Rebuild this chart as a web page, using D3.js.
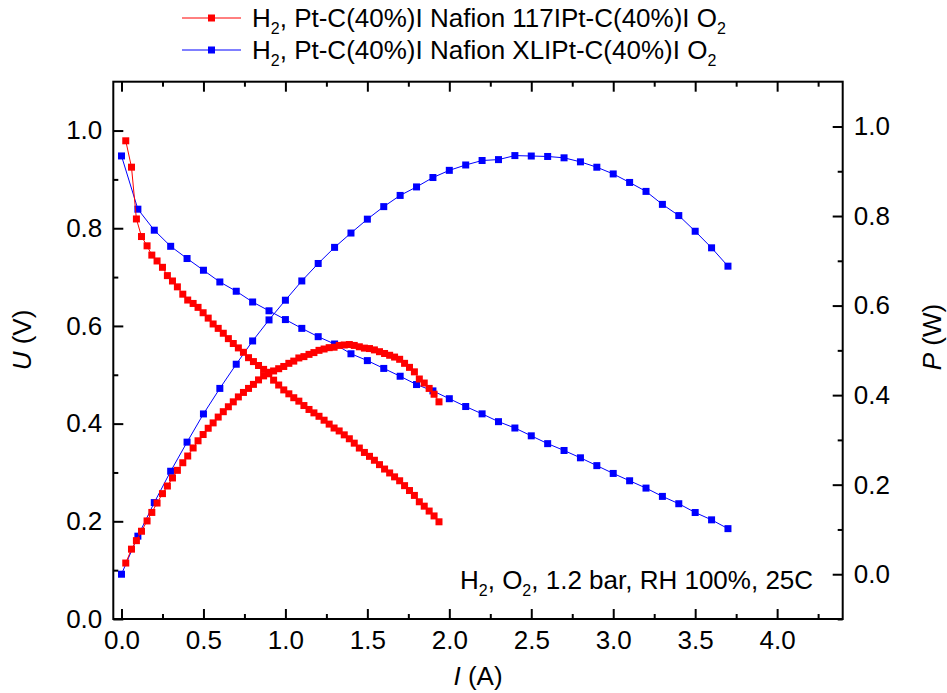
<!DOCTYPE html>
<html><head><meta charset="utf-8">
<script src="https://cdn.jsdelivr.net/npm/d3@7"></script>
<style>
body{margin:0;background:#fff}
svg{display:block}
text{font-family:"Liberation Sans",Arial,sans-serif;fill:#000}
</style>
</head><body>
<svg id="c" width="947" height="693"></svg>
<script>
// ---------- data ----------
const xTickValues = [0.0, 0.5, 1.0, 1.5, 2.0, 2.5, 3.0, 3.5, 4.0];
const uTickValues = [0.0, 0.2, 0.4, 0.6, 0.8, 1.0];
const pTickValues = [0.0, 0.2, 0.4, 0.6, 0.8, 1.0];

const seriesNames = ["Nafion 117", "Nafion XL"];

// Nafion 117 (red)
const redI = [0.026,0.061,0.091,0.122,0.156,0.185,0.217,0.250,0.280,0.311,0.341,0.374,0.404,0.437,
  0.467,0.498,0.529,0.559,0.590,0.621,0.652,0.682,0.713,0.744,0.775,0.805,0.836,0.867,0.898,0.928,
  0.959,0.990,1.021,1.051,1.082,1.113,1.144,1.174,1.205,1.236,1.267,1.297,1.328,1.359,1.390,1.420,
  1.451,1.482,1.513,1.543,1.574,1.605,1.636,1.666,1.697,
  1.727,1.757,1.787,1.817,1.847,1.877,1.907,1.937];
const redU = [0.979,0.925,0.819,0.783,0.764,0.745,0.733,0.720,0.703,0.692,0.680,0.665,0.653,0.646,
  0.638,0.627,0.616,0.604,0.595,0.585,0.574,0.564,0.555,0.546,0.535,0.527,0.519,0.511,0.502,0.489,
  0.479,0.469,0.461,0.453,0.446,0.437,0.429,0.422,0.415,0.407,0.399,0.391,0.385,0.377,0.369,0.360,
  0.350,0.341,0.333,0.325,0.316,0.307,0.299,0.291,0.283,
  0.273,0.263,0.253,0.240,0.231,0.221,0.211,0.199];
const redP = [0.025,0.056,0.075,0.096,0.119,0.138,0.159,0.180,0.197,0.215,0.232,0.249,0.264,0.282,
  0.298,0.312,0.326,0.338,0.351,0.363,0.374,0.385,0.396,0.406,0.415,0.424,0.434,0.443,0.451,0.454,
  0.459,0.464,0.471,0.476,0.483,0.486,0.491,0.495,0.500,0.503,0.506,0.507,0.511,0.512,0.513,0.511,
  0.508,0.505,0.504,0.501,0.497,0.493,0.489,0.485,0.480,
  0.471,0.462,0.452,0.436,0.427,0.415,0.402,0.385];

// Nafion XL (blue)
const blueI = [0.0,0.1,0.2,0.3,0.4,0.5,0.6,0.7,0.8,0.9,1.0,1.1,1.2,1.3,1.4,1.5,1.6,1.7,1.8,1.9,
  2.0,2.1,2.2,2.3,2.4,2.5,2.6,2.7,2.8,2.9,3.0,3.1,3.2,3.3,3.4,3.5,3.6,3.7];
const blueU = [0.948,0.839,0.796,0.763,0.738,0.714,0.690,0.671,0.649,0.631,0.613,0.595,0.578,0.563,
  0.543,0.529,0.513,0.497,0.480,0.467,0.451,0.435,0.420,0.404,0.391,0.375,0.359,0.345,0.330,0.314,
  0.298,0.283,0.268,0.251,0.236,0.218,0.203,0.185];
const blueP = [0.000,0.085,0.160,0.230,0.295,0.358,0.415,0.469,0.521,0.568,0.612,0.655,0.694,0.730,
  0.762,0.793,0.821,0.846,0.865,0.886,0.902,0.914,0.924,0.926,0.935,0.934,0.933,0.930,0.921,0.909,
  0.894,0.875,0.855,0.826,0.801,0.766,0.729,0.688];

// ---------- layout ----------
const L = 113.3, R = 842.7, T = 81.7, B = 619;
const FS = 26, SUB = 16;
const svg = d3.select("#c");

const x = d3.scaleLinear().domain([-0.05, 4.4]).range([L, R]);
const yU = d3.scaleLinear().domain([0, 1.1]).range([B, T]);
const yP = d3.scaleLinear().domain([-0.1, 1.1]).range([B, T]);

const fmt = d3.format(".1f");
const xMinor = [0.25, 0.75, 1.25, 1.75, 2.25, 2.75, 3.25, 3.75, 4.25];
const uMinor = [0.1, 0.3, 0.5, 0.7, 0.9];
const pMinor = [-0.1, 0.1, 0.3, 0.5, 0.7, 0.9];

function styleAxis(g){
  g.select(".domain").remove();
  g.selectAll(".tick line").attr("stroke", "#000").attr("stroke-width", 2);
  g.selectAll(".tick text").style("font-size", FS + "px")
    .style("font-family", '"Liberation Sans", Arial, sans-serif').attr("fill", "#000");
}

// bottom
svg.append("g").attr("transform", `translate(0,${B})`)
  .call(d3.axisBottom(x).tickValues(xTickValues).tickFormat(fmt).tickSizeInner(-10).tickSizeOuter(0).tickPadding(12))
  .call(styleAxis);
svg.append("g").attr("transform", `translate(0,${B})`)
  .call(d3.axisBottom(x).tickValues(xMinor).tickFormat("").tickSizeInner(-5).tickSizeOuter(0))
  .call(styleAxis);
// top (mirror)
svg.append("g").attr("transform", `translate(0,${T})`)
  .call(d3.axisTop(x).tickValues(xTickValues).tickFormat("").tickSizeInner(-10).tickSizeOuter(0))
  .call(styleAxis);
svg.append("g").attr("transform", `translate(0,${T})`)
  .call(d3.axisTop(x).tickValues(xMinor).tickFormat("").tickSizeInner(-5).tickSizeOuter(0))
  .call(styleAxis);
// left U
svg.append("g").attr("transform", `translate(${L},0)`)
  .call(d3.axisLeft(yU).tickValues(uTickValues).tickFormat(fmt).tickSizeInner(-10).tickSizeOuter(0).tickPadding(11))
  .call(styleAxis);
svg.append("g").attr("transform", `translate(${L},0)`)
  .call(d3.axisLeft(yU).tickValues(uMinor).tickFormat("").tickSizeInner(-5).tickSizeOuter(0))
  .call(styleAxis);
// right P
svg.append("g").attr("transform", `translate(${R},0)`)
  .call(d3.axisRight(yP).tickValues(pTickValues).tickFormat(fmt).tickSizeInner(-10).tickSizeOuter(0).tickPadding(11))
  .call(styleAxis);
svg.append("g").attr("transform", `translate(${R},0)`)
  .call(d3.axisRight(yP).tickValues(pMinor).tickFormat("").tickSizeInner(-5).tickSizeOuter(0))
  .call(styleAxis);

// frame
svg.append("rect").attr("x", L).attr("y", T).attr("width", R - L).attr("height", B - T)
  .attr("fill", "none").attr("stroke", "#000").attr("stroke-width", 2);

// axis titles
const xt = svg.append("text").attr("x", (L + R) / 2).attr("y", 685).attr("text-anchor", "middle").style("font-size", FS + "px");
xt.append("tspan").style("font-style", "italic").text("I");
xt.append("tspan").text(" (A)");

const ut = svg.append("text").attr("transform", "translate(31,340) rotate(-90)").attr("text-anchor", "middle").style("font-size", FS + "px");
ut.append("tspan").style("font-style", "italic").text("U");
ut.append("tspan").text(" (V)");

const pt = svg.append("text").attr("transform", "translate(941,337) rotate(-90)").attr("text-anchor", "middle").style("font-size", FS + "px");
pt.append("tspan").style("font-style", "italic").text("P");
pt.append("tspan").text(" (W)");

// ---------- series ----------
const MS = 7;
function drawSeries(I, V, yScale, color){
  const pts = I.map((v, i) => [v, V[i]]);
  const line = d3.line().x(d => x(d[0])).y(d => yScale(d[1]));
  const g = svg.append("g");
  g.append("path").attr("d", line(pts)).attr("fill", "none").attr("stroke", color).attr("stroke-width", 1);
  g.selectAll("rect").data(pts).join("rect")
    .attr("x", d => x(d[0]) - MS / 2).attr("y", d => yScale(d[1]) - MS / 2)
    .attr("width", MS).attr("height", MS).attr("fill", color);
}
drawSeries(blueI, blueU, yU, "#0000ff");
drawSeries(blueI, blueP, yP, "#0000ff");
drawSeries(redI, redU, yU, "#ff0000");
drawSeries(redI, redP, yP, "#ff0000");

// ---------- legend ----------
const legend = [
  {color: "#ff0000", name: seriesNames[0], y: 18},
  {color: "#0000ff", name: seriesNames[1], y: 50}
];
legend.forEach(d => {
  const g = svg.append("g");
  g.append("line").attr("x1", 182).attr("x2", 241).attr("y1", d.y).attr("y2", d.y)
    .attr("stroke", d.color).attr("stroke-width", 1);
  g.append("rect").attr("x", 211.5 - MS / 2).attr("y", d.y - MS / 2).attr("width", MS).attr("height", MS).attr("fill", d.color);
  const t = g.append("text").attr("x", 252).attr("y", d.y + 9).style("font-size", FS + "px");
  t.append("tspan").text("H");
  t.append("tspan").attr("dy", 7).style("font-size", SUB + "px").text("2");
  t.append("tspan").attr("dy", -7).text(", Pt-C(40%)I " + d.name + "IPt-C(40%)I O");
  t.append("tspan").attr("dy", 7).style("font-size", SUB + "px").text("2");
});

// annotation
const an = svg.append("text").attr("x", 460).attr("y", 589).style("font-size", FS + "px");
an.append("tspan").text("H");
an.append("tspan").attr("dy", 7).style("font-size", SUB + "px").text("2");
an.append("tspan").attr("dy", -7).text(", O");
an.append("tspan").attr("dy", 7).style("font-size", SUB + "px").text("2");
an.append("tspan").attr("dy", -7).text(", 1.2 bar, RH 100%, 25C");
</script>
</body></html>
